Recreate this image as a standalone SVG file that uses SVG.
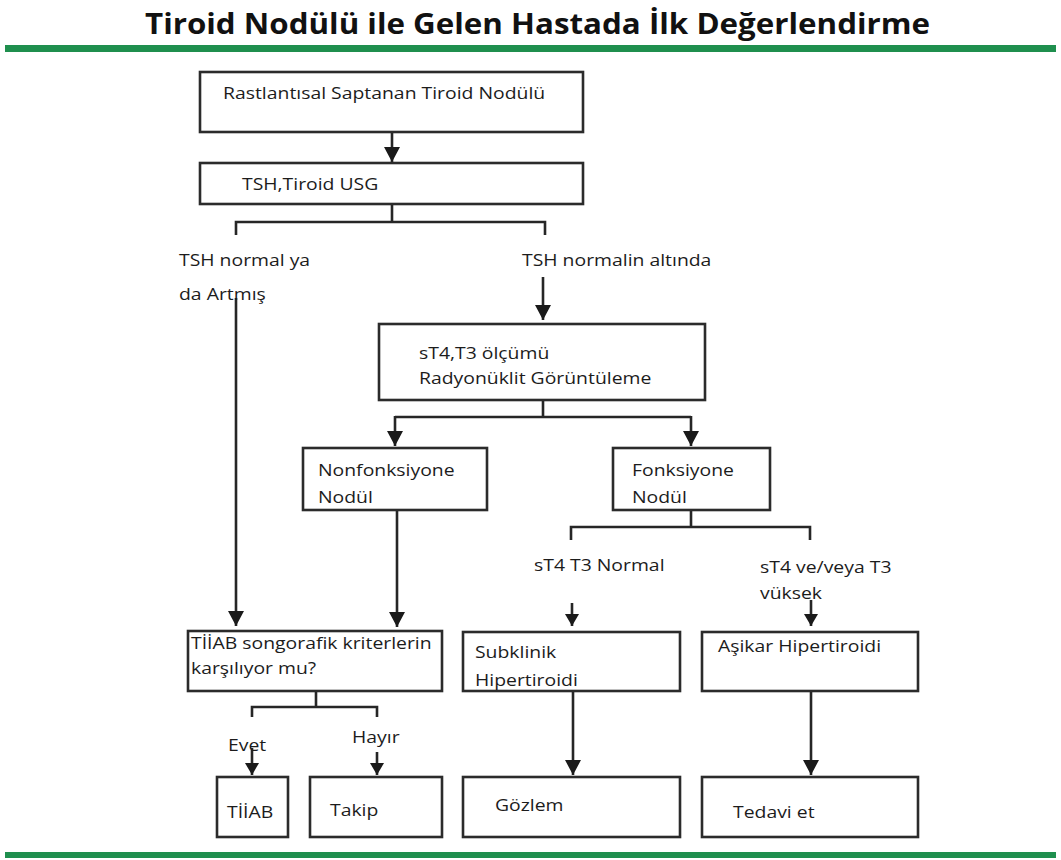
<svg xmlns="http://www.w3.org/2000/svg" width="1061" height="860" viewBox="0 0 1061 860">
<style>
.box{fill:#fff;stroke:#2b2b2b;stroke-width:2.6}
.ln{fill:none;stroke:#262626;stroke-width:2.6}
.t{font-family:"Open Sans","Liberation Sans",sans-serif;font-size:17px;fill:#1c1c1c}
.title{font-family:"Open Sans","Liberation Sans",sans-serif;font-size:28px;font-weight:bold;fill:#111}
.bar{fill:#1f8f4e}
</style>
<defs>
<marker id="ah" markerUnits="userSpaceOnUse" markerWidth="16" markerHeight="16" refX="15" refY="8" orient="auto">
<path d="M0,0 L15,8 L0,16 z" fill="#1a1a1a"/>
</marker>
<marker id="ahs" markerUnits="userSpaceOnUse" markerWidth="14" markerHeight="14" refX="12" refY="7" orient="auto">
<path d="M0,0 L12,7 L0,14 z" fill="#1a1a1a"/>
</marker>
</defs>
<rect width="1061" height="860" fill="#fff"/>
<text class="title" x="145" y="34" textLength="785" lengthAdjust="spacingAndGlyphs">Tiroid Nodülü ile Gelen Hastada İlk Değerlendirme</text>
<rect class="bar" x="5" y="45" width="1051" height="7"/>
<rect class="bar" x="5" y="852" width="1051" height="6"/>

<g id="connectors">
<path class="ln" d="M392,132 V162" marker-end="url(#ah)"/>
<path class="ln" d="M392,204 V222 M236,235 V222 H545 V235"/>
<path class="ln" d="M236,298 V626" marker-end="url(#ah)"/>
<path class="ln" d="M543,277 V320" marker-end="url(#ah)"/>
<path class="ln" d="M543,400 V417 M395,417 H691"/>
<path class="ln" d="M395,416 V446" marker-end="url(#ah)"/>
<path class="ln" d="M691,416 V446" marker-end="url(#ah)"/>
<path class="ln" d="M691,510 V527 M571,540 V527 H810 V540"/>
<path class="ln" d="M397,510 V627" marker-end="url(#ah)"/>
<path class="ln" d="M572,603 V626" marker-end="url(#ahs)"/>
<path class="ln" d="M811,600 V626" marker-end="url(#ahs)"/>
<path class="ln" d="M316,691 V707 M252,717 V707 H377 V717"/>
<path class="ln" d="M252,748 V775" marker-end="url(#ahs)"/>
<path class="ln" d="M377,752 V775" marker-end="url(#ahs)"/>
<path class="ln" d="M573,691 V775" marker-end="url(#ah)"/>
<path class="ln" d="M811,691 V775" marker-end="url(#ah)"/>
</g>

<g id="n1"><rect class="box" x="200" y="72" width="383" height="60"/>
<text class="t" transform="translate(223 99) scale(1.14 1)">Rastlantısal Saptanan Tiroid Nodülü</text></g>
<g id="n2"><rect class="box" x="200" y="163" width="383" height="41"/>
<text class="t" transform="translate(242 190) scale(1.14 1)">TSH,Tiroid USG</text></g>
<g id="l1"><text class="t" transform="translate(179 266) scale(1.14 1)"><tspan x="0" y="0">TSH normal ya</tspan><tspan x="0" y="34">da Artmış</tspan></text></g>
<g id="l2"><text class="t" transform="translate(522 266) scale(1.14 1)">TSH normalin altında</text></g>
<g id="n3"><rect class="box" x="379" y="324" width="326" height="76"/>
<text class="t" transform="translate(419 359) scale(1.14 1)"><tspan x="0" y="0">sT4,T3 ölçümü</tspan><tspan x="0" y="25">Radyonüklit Görüntüleme</tspan></text></g>
<g id="n4"><rect class="box" x="303" y="448" width="184" height="62"/>
<text class="t" transform="translate(318 476) scale(1.14 1)"><tspan x="0" y="0">Nonfonksiyone</tspan><tspan x="0" y="27">Nodül</tspan></text></g>
<g id="n5"><rect class="box" x="613" y="448" width="157" height="62"/>
<text class="t" transform="translate(632 476) scale(1.14 1)"><tspan x="0" y="0">Fonksiyone</tspan><tspan x="0" y="27">Nodül</tspan></text></g>
<g id="l3"><text class="t" transform="translate(534 571) scale(1.14 1)">sT4 T3 Normal</text></g>
<g id="l4"><text class="t" transform="translate(760 573) scale(1.14 1)"><tspan x="0" y="0">sT4 ve/veya T3</tspan><tspan x="0" y="26">vüksek</tspan></text></g>
<g id="n6"><rect class="box" x="188" y="631" width="254" height="60"/>
<text class="t" transform="translate(191 649) scale(1.14 1)"><tspan x="0" y="0">TİİAB songorafik kriterlerin</tspan><tspan x="0" y="25">karşılıyor mu?</tspan></text></g>
<g id="n7"><rect class="box" x="463" y="632" width="217" height="59"/>
<text class="t" transform="translate(475 658) scale(1.14 1)"><tspan x="0" y="0">Subklinik</tspan><tspan x="0" y="28">Hipertiroidi</tspan></text></g>
<g id="n8"><rect class="box" x="702" y="632" width="216" height="59"/>
<text class="t" transform="translate(718 652) scale(1.14 1)">Aşikar Hipertiroidi</text></g>
<g id="l5"><text class="t" transform="translate(228 751) scale(1.14 1)">Evet</text></g>
<g id="l6"><text class="t" transform="translate(352 743) scale(1.14 1)">Hayır</text></g>
<g id="n9"><rect class="box" x="217" y="777" width="71" height="60"/>
<text class="t" transform="translate(227 818) scale(1.14 1)">TİİAB</text></g>
<g id="n10"><rect class="box" x="310" y="777" width="132" height="60"/>
<text class="t" transform="translate(330 816) scale(1.14 1)">Takip</text></g>
<g id="n11"><rect class="box" x="463" y="777" width="217" height="60"/>
<text class="t" transform="translate(495 811) scale(1.14 1)">Gözlem</text></g>
<g id="n12"><rect class="box" x="702" y="777" width="216" height="60"/>
<text class="t" transform="translate(733 818) scale(1.14 1)">Tedavi et</text></g>
</svg>
